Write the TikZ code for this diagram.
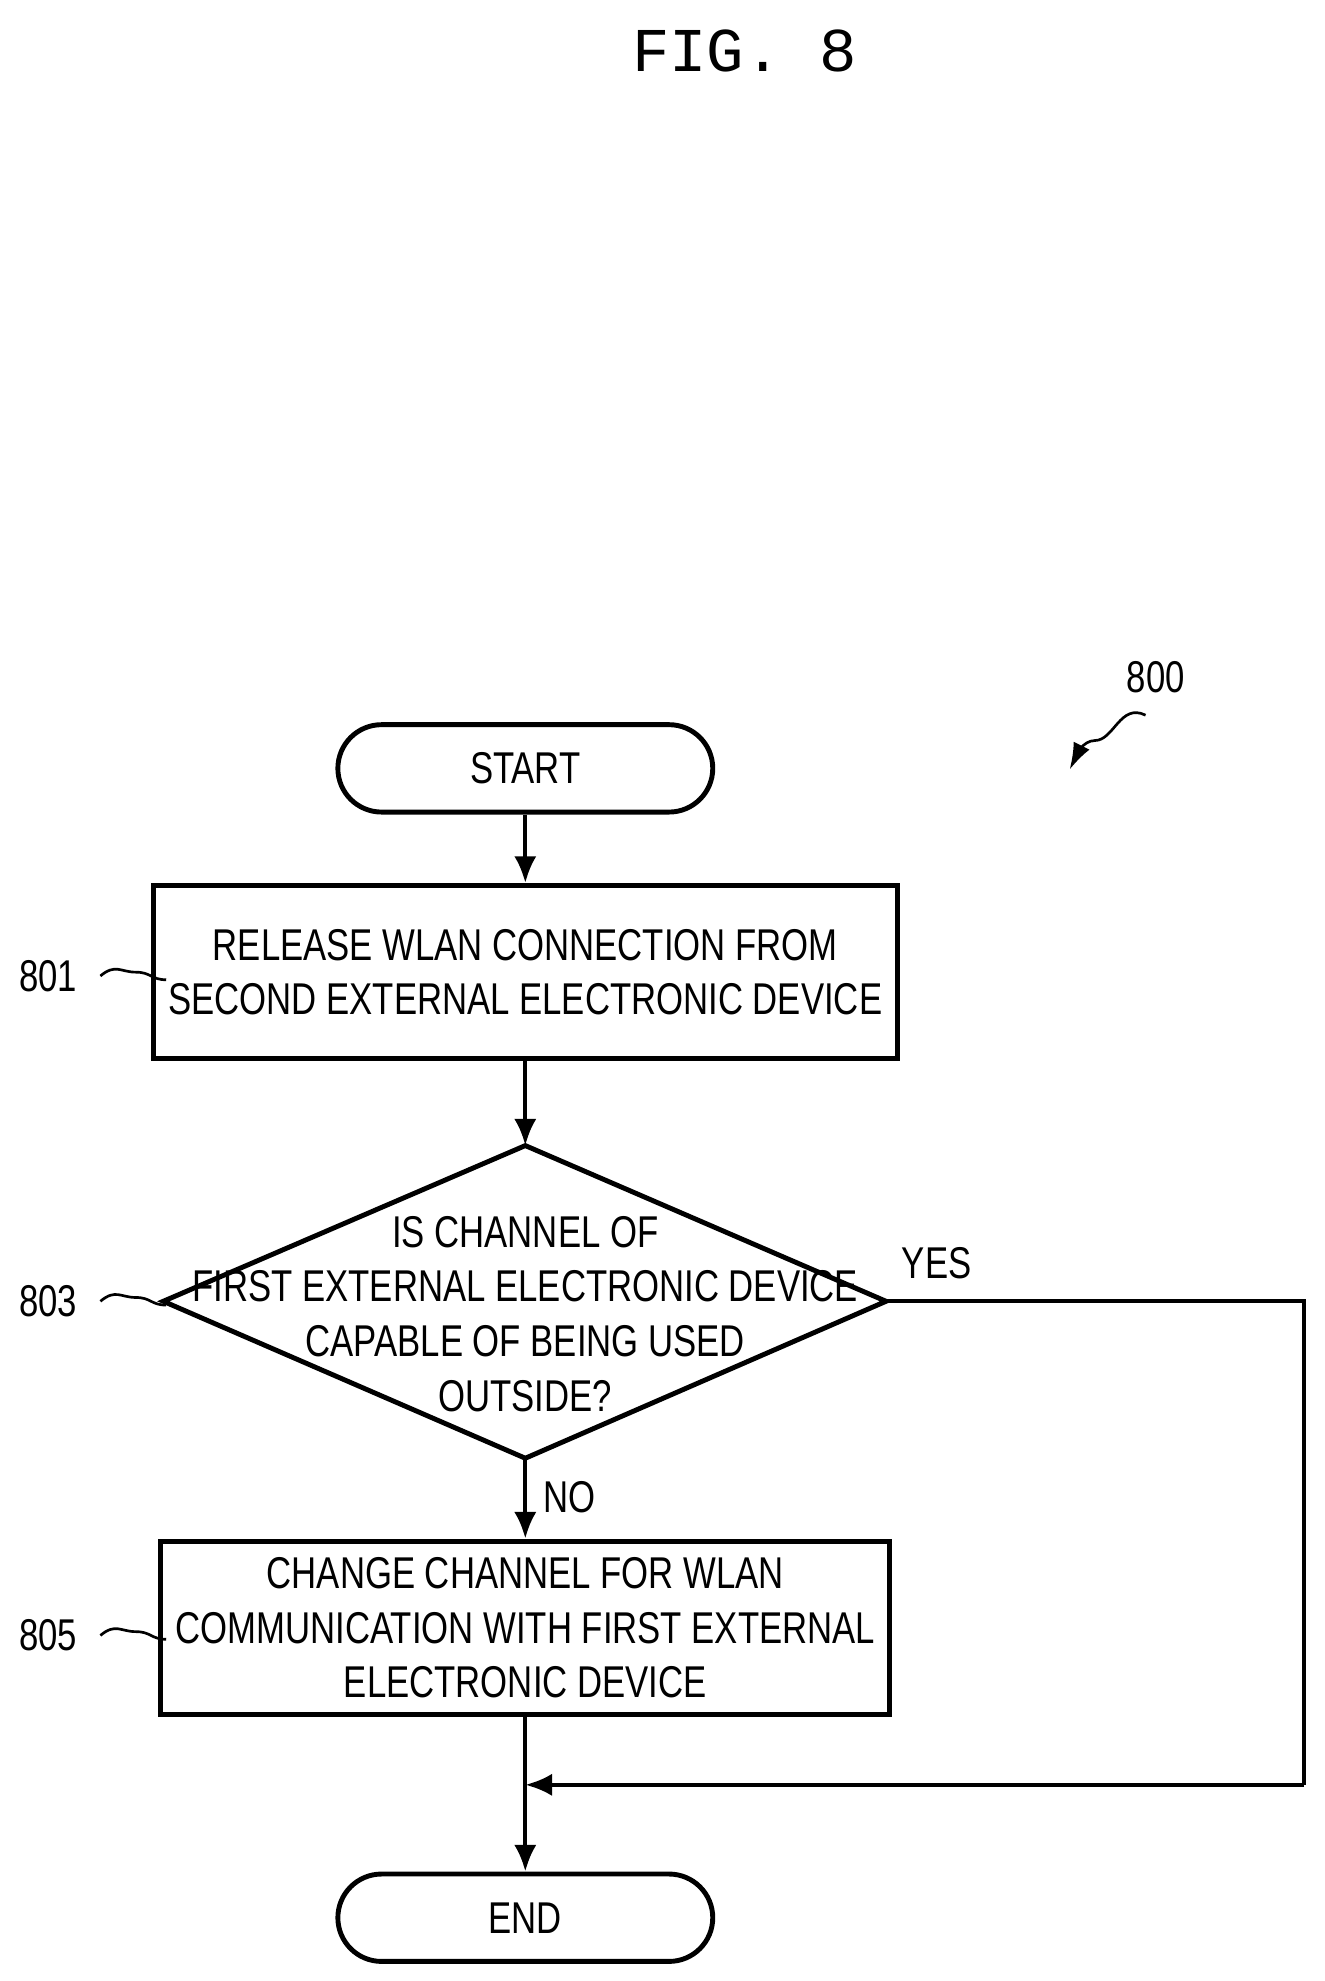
\documentclass[tikz,border=0pt]{standalone}
\usepackage{fontspec}
\setmainfont[FakeStretch=0.78]{Liberation Sans}
\newfontfamily\titlefont{Liberation Mono}
\usetikzlibrary{arrows.meta}
\begin{document}
\begin{tikzpicture}[x=0.01cm,y=-0.01cm,
  box/.style={draw,line width=1.1pt,minimum width=5.71cm,minimum height=1.37cm,align=center,font=\fontsize{10}{12.3}\selectfont},
  term/.style={draw,line width=1.1pt,rounded corners=0.345cm,minimum width=2.96cm,minimum height=0.69cm,font=\fontsize{10}{12}\selectfont},
  txt/.style={align=center,font=\fontsize{10}{12.3}\selectfont},
  lbl/.style={font=\fontsize{10}{12}\selectfont},
  arr/.style={line width=0.9pt,-{Latex[length=6pt,width=5pt]}},
  ln/.style={line width=0.9pt},
  sq/.style={line width=0.6pt}]
\useasboundingbox (0,0) rectangle (1046,1565);
\node[font=\titlefont\fontsize{14}{16}\selectfont] (title) at (588,40) {FIG. 8};
\node[lbl] (n800) at (913,535) {800};
\coordinate (a800) at (905,565);
\coordinate (b800) at (845,608);
\draw[sq,-{Latex[length=6pt,width=4pt]}] (a800) .. controls (885,555) and (880,585) .. (865,585) .. controls (855,585) and (850,598) .. (b800);
\node[term] (start) at (415,607) {START};
\node[box] (b801) at (415,768) {RELEASE WLAN CONNECTION FROM\\SECOND EXTERNAL ELECTRONIC DEVICE};
\coordinate (dt) at (415,905);
\coordinate (db) at (415,1152);
\coordinate (dl) at (129,1028);
\coordinate (dr) at (700,1028);
\draw[line width=1.1pt] (dt) -- (dr) -- (db) -- (dl) -- cycle;
\node[txt] (d803) at (415,1038) {IS CHANNEL OF\\FIRST EXTERNAL ELECTRONIC DEVICE\\CAPABLE OF BEING USED\\OUTSIDE?};
\node[box] (b805) at (415,1286) {CHANGE CHANNEL FOR WLAN\\COMMUNICATION WITH FIRST EXTERNAL\\ELECTRONIC DEVICE};
\node[term] (end) at (415,1515) {END};
\node[lbl] (l801) at (38,771) {801};
\node[lbl] (l803) at (38,1028) {803};
\node[lbl] (l805) at (38,1292) {805};
\node[lbl] (yes) at (740,998) {YES};
\node[lbl] (no) at (450,1183) {NO};
\foreach \n in {l801,l803,l805}{
  \draw[sq] (\n.east) ++(6,0) .. controls +(12,-10) and +(-12,0) .. ++(28,-3) .. controls +(12,0) and +(-12,0) .. ++(24,6);
}
\draw[arr] (start) -- (b801);
\draw[arr] (b801) -- (dt);
\draw[arr] (db) -- (b805);
\draw[arr] (b805) -- (end);
\coordinate (c1) at (1030,1028);
\coordinate (c2) at (1030,1410);
\coordinate (c3) at (415,1410);
\draw[ln] (dr) -- (c1) -- (c2);
\draw[arr] (c2) -- (c3);
\end{tikzpicture}
\end{document}
